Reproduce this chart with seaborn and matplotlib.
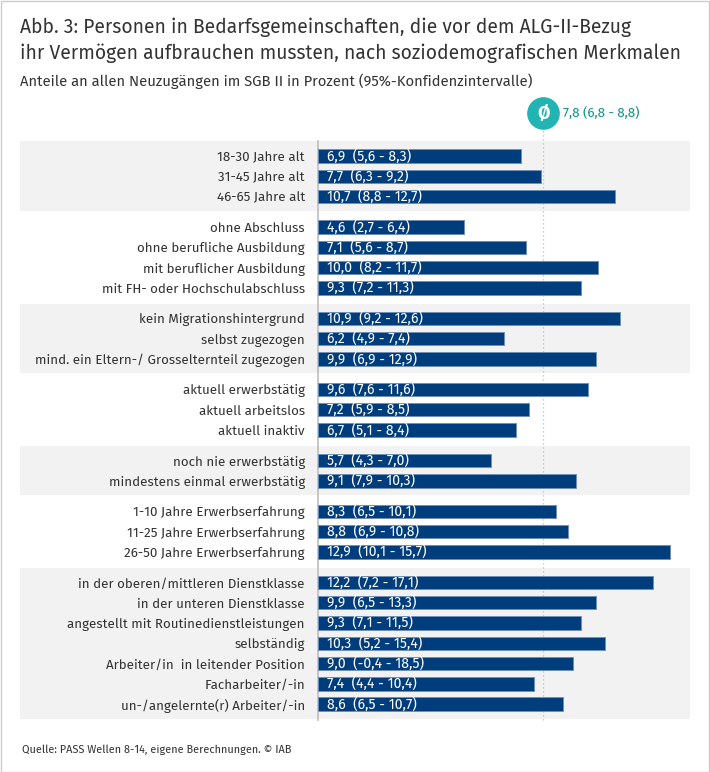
import matplotlib
matplotlib.use("Agg")
import matplotlib.pyplot as plt
import seaborn as sns
import pandas as pd
from matplotlib import font_manager as fm
from matplotlib.patches import Rectangle

# ---------------- data ----------------
categories = [
    "18-30 Jahre alt", "31-45 Jahre alt", "46-65 Jahre alt",
    "ohne Abschluss", "ohne berufliche Ausbildung", "mit beruflicher Ausbildung",
    "mit FH- oder Hochschulabschluss",
    "kein Migrationshintergrund", "selbst zugezogen",
    "mind. ein Eltern-/ Grosselternteil zugezogen",
    "aktuell erwerbstätig", "aktuell arbeitslos", "aktuell inaktiv",
    "noch nie erwerbstätig", "mindestens einmal erwerbstätig",
    "1-10 Jahre Erwerbserfahrung", "11-25 Jahre Erwerbserfahrung",
    "26-50 Jahre Erwerbserfahrung",
    "in der oberen/mittleren Dienstklasse", "in der unteren Dienstklasse",
    "angestellt mit Routinedienstleistungen", "selbständig",
    "Arbeiter/in  in leitender Position", "Facharbeiter/-in",
    "un-/angelernte(r) Arbeiter/-in",
]
groups = [0, 0, 0, 1, 1, 1, 1, 2, 2, 2, 3, 3, 3, 4, 4, 5, 5, 5, 6, 6, 6, 6, 6, 6, 6]
values = [6.9, 7.7, 10.7, 4.6, 7.1, 10.0, 9.3, 10.9, 6.2, 9.9, 9.6, 7.2, 6.7,
          5.7, 9.1, 8.3, 8.8, 12.9, 12.2, 9.9, 9.3, 10.3, 9.0, 7.4, 8.6]
lower = [5.6, 6.3, 8.8, 2.7, 5.6, 8.2, 7.2, 9.2, 4.9, 6.9, 7.6, 5.9, 5.1,
         4.3, 7.9, 6.5, 6.9, 10.1, 7.2, 6.5, 7.1, 5.2, -0.4, 4.4, 6.5]
upper = [8.3, 9.2, 12.7, 6.4, 8.7, 11.7, 11.3, 12.6, 7.4, 12.9, 11.6, 8.5, 8.4,
         7.0, 10.3, 10.1, 10.8, 15.7, 17.1, 13.3, 11.5, 15.4, 18.5, 10.4, 10.7]
mean_value, mean_lower, mean_upper = 7.8, 6.8, 8.8

title_lines = ["Abb. 3: Personen in Bedarfsgemeinschaften, die vor dem ALG-II-Bezug",
               "ihr Vermögen aufbrauchen mussten, nach soziodemografischen Merkmalen"]
subtitle = "Anteile an allen Neuzugängen im SGB II in Prozent (95%-Konfidenzintervalle)"
source = "Quelle: PASS Wellen 8-14, eigene Berechnungen. © IAB"

# ---------------- style ----------------
sns.set_theme(style="white")
fam = None
for f in fm.fontManager.ttflist:
    if f.name in ("Source Sans Pro", "Source Sans 3") and f.style == "normal" \
            and f.weight in (400, "normal", "regular") \
            and not any(k in f.fname for k in ("Variable", "wght", "VF", "[")):
        fam = f.name
        break
if fam is None:
    installed = {f.name for f in fm.fontManager.ttflist}
    for cand in ["Fira Sans", "PT Sans", "Lato", "Noto Sans"]:
        if cand in installed:
            fam = cand
            break
plt.rcParams["font.family"] = [fam, "DejaVu Sans"]
plt.rcParams["font.weight"] = "normal"

W, H = 710, 772
fig = plt.figure(figsize=(W / 100, H / 100), dpi=100)
fig.patch.set_facecolor("white")

def fx(px):
    return px / W

def fy(py):
    return 1 - py / H

ax = fig.add_axes([fx(318), fy(720), fx(690) - fx(318), fy(141) - fy(720)])

BASE = -1.29
BAR = "#003d7c"
TEAL = "#22b4b3"
TEAL_TXT = "#12918f"
TXT = "#333333"

fmt = lambda v: f"{v:.1f}".replace(".", ",")
pos = [i + 0.5 * g for i, g in enumerate(groups)]
df = pd.DataFrame({"cat": categories, "value": values, "pos": pos})

sns.barplot(data=df, x="value", y="pos", orient="y", native_scale=True,
            width=0.66, color=BAR, edgecolor="#6f8fb8", linewidth=0.7,
            errorbar=None, saturation=1, ax=ax, zorder=3)
bars = list(ax.patches)
for p in bars:
    w = p.get_width()
    p.set_x(BASE)
    p.set_width(w - BASE)

ax.set_xlim(BASE, 13.71)
ax.set_ylim(27.78, -0.74)

# shaded groups
for g in sorted(set(groups)):
    if g % 2 == 0:
        ps = [p for p, gg in zip(pos, groups) if gg == g]
        ax.axhspan(min(ps) - 0.73, max(ps) + 0.71, xmin=(20 - 318) / 372, xmax=1,
                   color="#f2f2f2", zorder=0, clip_on=False, lw=0)

# value labels
vtexts = []
for p, v, lo, hi in zip(pos, values, lower, upper):
    vtexts.append(ax.text(BASE + 0.37, p, f"{fmt(v)}  ({fmt(lo)} - {fmt(hi)})",
                          color="white", va="center", ha="left", fontsize=10, zorder=4))

# mean line and marker
ax.plot([mean_value, mean_value], [27.78, -1.35], ls=(0, (1, 2.2)), color="#8ccfcc",
        lw=0.9, clip_on=False, zorder=1)
ax.plot([mean_value], [-2.12], marker="o", ms=22.5, color=TEAL, mec=TEAL,
        clip_on=False, zorder=5)
ax.text(mean_value, -2.1, "Ø", color="white", ha="center", va="center",
        fontsize=13, fontweight="bold", zorder=6, clip_on=False)
mt = ax.text(mean_value + 0.8, -2.12,
             f"{fmt(mean_value)} ({fmt(mean_lower)} - {fmt(mean_upper)})",
             color=TEAL_TXT, ha="left", va="center", fontsize=10.5, clip_on=False)

# axes styling
ax.set_yticks(pos, categories)
ax.tick_params(axis="y", length=0, pad=9.4, labelsize=10, labelcolor=TXT)
ax.set_xticks([])
ax.set_xlabel("")
ax.set_ylabel("")
for s in ["top", "right", "bottom"]:
    ax.spines[s].set_visible(False)
ax.spines["left"].set_color("#bdbdbd")
ax.spines["left"].set_linewidth(1.2)
ax.spines["left"].set_zorder(2)
ax.set_facecolor("none")

# titles
t1 = fig.text(fx(20), fy(33), title_lines[0], fontsize=14, color=TXT, va="baseline")
t2 = fig.text(fx(20), fy(59), title_lines[1], fontsize=14, color=TXT, va="baseline")
st = fig.text(fx(20), fy(86), subtitle, fontsize=10, color=TXT, va="baseline")
sr = fig.text(fx(22), fy(753), source, fontsize=7.5, color=TXT, va="baseline")

# fit text widths to reference
fig.canvas.draw()
r = fig.canvas.get_renderer()

def fit(t, target):
    w = t.get_window_extent(r).width
    t.set_fontsize(t.get_fontsize() * target / w)

fit(t2, 660)
t1.set_fontsize(t2.get_fontsize())
fit(st, 510)
fit(sr, 271)
fit(mt, 77)
longest = [t for t in ax.get_yticklabels() if t.get_text().startswith("mind.")][0]
lab_fs = 10 * 268 / longest.get_window_extent(r).width
ax.tick_params(axis="y", labelsize=lab_fs)
fit(vtexts[2], 94)
for t in vtexts:
    t.set_fontsize(vtexts[2].get_fontsize())

# border
fig.patches.append(Rectangle((0.5 / W, 0.5 / H), 1 - 1.5 / W, 1 - 1.5 / H,
                             transform=fig.transFigure, fill=False,
                             edgecolor="#cccccc", lw=1))

fig.savefig("out.png", dpi=100)
